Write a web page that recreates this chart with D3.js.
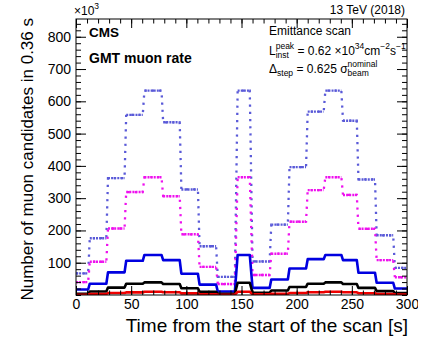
<!DOCTYPE html>
<html><head><meta charset="utf-8">
<script src="https://cdn.jsdelivr.net/npm/d3@7"></script>
<style>
body{margin:0;background:#fff}
svg{display:block;font-family:"Liberation Sans",Arial,Helvetica,sans-serif}
</style></head>
<body><svg id="c" width="433" height="341"></svg>
<script>
// Scan step plateaus (seconds)
const stepStart = [0, 12.5, 29, 45.5, 62, 79, 95.5, 112, 128.5, 146.5, 160, 177, 193.5, 210, 226, 242, 256, 272.5, 289];
const stepEnd   = [11, 27.5, 44, 60.5, 77.5, 94, 110.5, 127, 144, 157.5, 175.5, 192, 208.5, 224.5, 240.5, 254.5, 271, 287.5, 300];
// Muon candidates (x10^3) per plateau for each threshold series
const ratePurple  = [67, 176, 362, 558, 633, 535, 327, 151, 56, 633, 104, 218, 396, 568, 633, 540, 358, 185, 84];
const rateMagenta = [40, 103, 206, 319, 365, 306, 188, 87, 34, 365, 62, 128, 227, 325, 365, 310, 205, 108, 55];
const rateBlue    = [17, 35, 70, 106, 124, 108, 66, 32, 11, 124, 22, 48, 82, 111, 124, 108, 69, 38, 20];
const rateBlack   = [4, 11, 23, 35, 39, 34, 21, 10, 4, 38, 7, 14, 25, 35, 39, 34, 22, 12, 6];
const rateRed     = [1, 3, 6, 8, 10, 8.5, 5, 2.5, 1, 10, 2, 3.5, 6, 8.5, 10, 8.5, 5.5, 3, 1.5];
const xTicks = [0, 50, 100, 150, 200, 250, 300];
const yTicks = [100, 200, 300, 400, 500, 600, 700, 800];

const svg = d3.select("#c");
const L = 76, R = 407, T = 19, B = 295;
const x = d3.scaleLinear().domain([0, 300]).range([L, R]);
const y = d3.scaleLinear().domain([0, 855]).range([B, T]);

svg.append("defs").append("clipPath").attr("id", "pc")
  .append("rect").attr("x", L).attr("y", T).attr("width", R - L).attr("height", B - T);
svg.select("defs").append("clipPath").attr("id", "wc")
  .append("rect").attr("x", 0).attr("y", 0).attr("width", 418).attr("height", 341);

const line = d3.line().x(d => x(d[0])).y(d => y(d[1]));
const plot = svg.append("g").attr("clip-path", "url(#pc)");

function pts(levels) { return levels.flatMap((v, i) => [[stepStart[i], v], [stepEnd[i], v]]); }

function dotted(levels, color) {
  plot.append("path").attr("d", line(pts(levels))).attr("fill", "none")
    .attr("stroke", color).attr("stroke-width", 2.3).attr("stroke-dasharray", "2.2,5");
  plot.append("g").selectAll("line").data(levels).join("line")
    .attr("x1", (d, i) => x(stepStart[i])).attr("x2", (d, i) => x(stepEnd[i]))
    .attr("y1", d => y(d)).attr("y2", d => y(d))
    .attr("stroke", color).attr("stroke-width", 2.4).attr("stroke-dasharray", "2,1.1");
}
function solid(levels, color) {
  plot.append("path").attr("d", line(pts(levels))).attr("fill", "none")
    .attr("stroke", color).attr("stroke-width", 2.6).attr("stroke-linejoin", "round");
}
dotted(ratePurple, "#5a5ad8");
dotted(rateMagenta, "#ee11ee");
solid(rateBlue, "#0000e0");
solid(rateBlack, "#000000");
solid(rateRed, "#ee0000");

// axes
const yMinor = d3.range(0, 856, 20);
const xMinor = d3.range(0, 301, 10);
function styleAxis(g) { g.select(".domain").remove(); g.selectAll("line").attr("stroke", "#000"); g.selectAll("text").attr("font-size", 14).attr("fill", "#000").attr("font-family", "Liberation Sans, Arial, sans-serif"); }

svg.append("g").attr("transform", `translate(${L},0)`)
  .call(d3.axisLeft(y).tickValues(yTicks).tickSize(-10).tickPadding(5).tickFormat(d3.format("d"))).call(styleAxis);
svg.append("g").attr("transform", `translate(${L},0)`)
  .call(d3.axisLeft(y).tickValues(yMinor).tickSize(-5).tickFormat("")).call(styleAxis);
svg.append("g").attr("transform", `translate(${R},0)`)
  .call(d3.axisRight(y).tickValues(yTicks).tickSize(-10).tickFormat("")).call(styleAxis);
svg.append("g").attr("transform", `translate(${R},0)`)
  .call(d3.axisRight(y).tickValues(yMinor).tickSize(-5).tickFormat("")).call(styleAxis);

svg.append("g").attr("clip-path", "url(#wc)").append("g").attr("transform", `translate(0,${B})`)
  .call(d3.axisBottom(x).tickValues(xTicks).tickSize(-9).tickPadding(5).tickFormat(d3.format("d"))).call(styleAxis)
  .selectAll("text").attr("dy", "0.71em").attr("y", 4);
svg.append("g").attr("transform", `translate(0,${B})`)
  .call(d3.axisBottom(x).tickValues(xMinor).tickSize(-4.5).tickFormat("")).call(styleAxis);
svg.append("g").attr("transform", `translate(0,${T})`)
  .call(d3.axisTop(x).tickValues(xTicks).tickSize(-9).tickFormat("")).call(styleAxis);
svg.append("g").attr("transform", `translate(0,${T})`)
  .call(d3.axisTop(x).tickValues(xMinor).tickSize(-4.5).tickFormat("")).call(styleAxis);

svg.append("rect").attr("x", L).attr("y", T).attr("width", R - L).attr("height", B - T)
  .attr("fill", "none").attr("stroke", "#000").attr("stroke-width", 1);

// titles
svg.append("text").attr("x", 408).attr("y", 332).attr("text-anchor", "end")
  .attr("font-size", 19).text("Time from the start of the scan [s]");
svg.append("text").attr("transform", "translate(33,18) rotate(-90)").attr("text-anchor", "end")
  .attr("font-size", 17).text("Number of muon candidates in 0.36 s");

function chain(x0, y0, groups) {
  let cx = x0;
  groups.forEach(grp => {
    let w = 0;
    grp.forEach(([t, s, dy, extra]) => {
      const el = svg.append("text").attr("x", cx).attr("y", y0 + dy).attr("font-size", s)
        .attr("font-weight", extra === "b" ? "bold" : null).text(t);
      w = Math.max(w, el.node().getComputedTextLength());
    });
    cx += w;
  });
}
chain(74, 15, [[["\u00d710", 12, 0]], [["3", 8.5, -6]]]);
svg.append("text").attr("x", 405).attr("y", 14).attr("text-anchor", "end").attr("font-size", 12).text("13 TeV (2018)");
svg.append("text").attr("x", 89).attr("y", 37).attr("font-size", 13.5).attr("font-weight", "bold").text("CMS");
svg.append("text").attr("x", 89).attr("y", 63).attr("font-size", 14).attr("font-weight", "bold").text("GMT muon rate");
svg.append("text").attr("x", 269).attr("y", 35).attr("font-size", 12).text("Emittance scan");
chain(269, 55, [[["L", 12, 0]], [["peak", 8.5, -6], ["inst", 8.5, 3]], [["\u00a0= 0.62 \u00d710", 12, 0]], [["34", 8.5, -6]], [["cm", 12, 0]], [["\u22122", 8.5, -6]], [["s", 12, 0]], [["\u22121", 8.5, -6]]]);
chain(269, 73, [[["\u0394", 12, 0]], [["step", 8.5, 3]], [["\u00a0= 0.625\u00a0", 12, 0]], [["\u03c3", 12, 0]], [["nominal", 8.5, -6], ["beam", 8.5, 3]]]);
</script></body></html>
